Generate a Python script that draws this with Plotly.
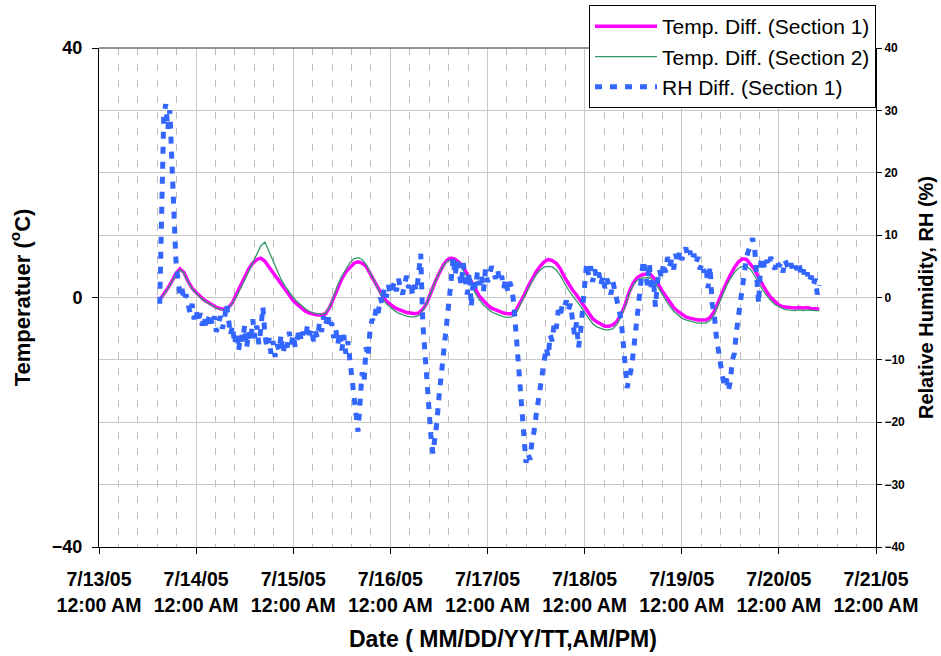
import pandas as pd
import plotly.graph_objects as go

# Temperature readings are hourly, RH readings half-hourly, both from 7/13/05 3:00 PM
start_time = "2005-07-13 15:00"

temp_section1 = [
    -0.4, 0.5, 1.5, 2.6, 3.8, 4.6, 4.0, 2.6, 1.5, 0.8, 0.1, -0.4, -0.8, -1.2, -1.6, -1.8,
    -1.9, -1.6, -0.8, 0.6, 2.0, 3.3, 4.6, 5.5, 6.1, 6.3, 5.8, 4.9, 4.0, 3.0, 2.0, 1.1,
    0.3, -0.5, -1.1, -1.7, -2.2, -2.5, -2.7, -2.8, -2.8, -2.6, -1.6, 0.0, 1.7, 3.0, 4.1, 4.9,
    5.5, 5.7, 5.5, 5.0, 3.9, 2.7, 1.5, 0.3, -0.6, -1.1, -1.6, -1.9, -2.2, -2.4, -2.5, -2.6,
    -2.5, -1.9, -0.9, 0.9, 2.4, 3.8, 5.1, 6.0, 6.3, 6.1, 5.6, 4.9, 3.8, 2.7, 1.4, 0.2,
    -0.6, -1.2, -1.7, -2.0, -2.3, -2.5, -2.6, -2.6, -2.1, -1.0, 0.3, 1.7, 3.0, 4.1, 5.0, 5.7,
    6.1, 5.9, 5.5, 4.6, 3.3, 2.2, 1.2, 0.4, -0.6, -1.6, -2.6, -3.4, -3.9, -4.3, -4.6, -4.6,
    -4.4, -3.8, -2.7, -1.2, 0.9, 2.3, 3.2, 3.6, 3.8, 3.9, 3.2, 2.4, 1.2, 0.2, -0.8, -1.6,
    -2.2, -2.7, -3.1, -3.3, -3.5, -3.6, -3.6, -3.6, -3.2, -2.3, -0.8, 0.9, 2.3, 3.6, 4.8, 5.7,
    6.2, 6.1, 5.4, 4.5, 3.2, 2.0, 0.9, 0.0, -0.7, -1.2, -1.5, -1.6, -1.7, -1.7, -1.6, -1.7,
    -1.6, -1.8, -1.8, -1.9,
]

temp_section2 = [
    -0.5, 0.4, 1.4, 2.5, 3.7, 4.5, 3.9, 2.5, 1.4, 0.7, 0.0, -0.5, -0.9, -1.3, -1.7, -1.9,
    -2.0, -1.7, -0.9, 0.2, 1.4, 2.8, 4.2, 5.6, 7.0, 8.3, 8.9, 7.4, 5.6, 4.2, 2.9, 1.8,
    0.8, 0.0, -0.7, -1.3, -1.8, -2.2, -2.5, -2.6, -2.7, -2.5, -1.5, 0.2, 2.0, 3.4, 4.6, 5.6,
    6.2, 6.4, 6.1, 5.3, 4.0, 2.7, 1.2, 0.0, -1.0, -1.6, -2.1, -2.5, -2.8, -3.0, -3.1, -3.1,
    -2.9, -2.1, -0.9, 0.9, 2.4, 3.8, 5.0, 5.8, 6.0, 5.9, 5.3, 4.3, 3.2, 2.0, 0.7, -0.4,
    -1.2, -1.8, -2.3, -2.6, -2.9, -3.1, -3.2, -3.1, -2.6, -1.4, 0.0, 1.3, 2.6, 3.6, 4.4, 4.9,
    5.0, 4.9, 4.4, 3.5, 2.3, 1.2, 0.3, -0.5, -1.4, -2.4, -3.4, -4.2, -4.7, -5.0, -5.2, -5.2,
    -5.0, -4.3, -3.1, -1.5, 0.6, 2.0, 2.8, 3.1, 3.2, 3.2, 2.6, 1.8, 0.7, -0.4, -1.4, -2.2,
    -2.8, -3.3, -3.6, -3.8, -4.0, -4.1, -4.1, -4.1, -3.7, -2.8, -1.3, 0.4, 1.8, 3.0, 4.0, 4.7,
    5.0, 5.0, 4.5, 3.5, 2.3, 1.2, 0.3, -0.5, -1.1, -1.5, -1.8, -2.0, -2.1, -2.1, -2.0, -2.1,
    -2.0, -2.1, -2.1, -2.1,
]

rh_section1 = [
    # 7/13 afternoon: sensor spike
    -1.0, 12.0, 29.0, 31.0, 27.0, 30.0, 20.0, 11.0, 6.0, 3.0, 0.5, 1.5, -0.5, 0.5, -1.5,
    -2.5, -1.0, -3.5, -2.0, -4.0, -2.5, -4.5, -3.0, -5.0, -3.5, -2.5, -4.5, -3.0, -5.5, -4.0,
    -3.0, -5.0, -3.5, -1.0, -4.5,
    -6.0, -4.5, -7.5, -5.5, -8.5, -6.0, -7.0, -4.5, -8.0, -5.5, -7.0, -3.5, -6.5, -4.5, -7.5,
    -5.0, -1.5, -6.0,
    -8.0, -6.5, -9.0, -7.0, -9.5, -7.5, -8.5, -6.0, -9.0, -7.0, -8.0, -5.5, -7.5, -6.0, -8.0,
    -6.5, -5.0, -7.0, -5.5, -6.5, -4.5, -6.0, -5.0, -7.0, -5.5, -6.5, -4.0, -5.5,
    -3.0, -4.5, -2.5, -5.0, -4.0, -6.5, -5.0, -7.5, -5.5, -8.5, -6.0, -9.0, -7.0, -10.0, -12.5,
    # 7/15 dip
    -15.0, -18.0, -21.5, -17.0, -12.0, -13.5, -8.0, -9.5, -5.0, -3.5, -4.0, -1.5, -2.5, 0.0, -1.0,
    1.5, 0.0, 2.0, 0.5, 1.5, 2.5, 1.0, 3.0, 1.5, 0.5, 2.0, 3.5, 1.5, 2.5, 0.5, 2.0, 1.0,
    # 7/16 dip
    4.0, 7.0, -4.0, -9.0, -13.0, -18.0, -22.0, -25.0, -23.0, -20.0, -16.0, -12.5, -9.0, -6.0,
    -3.0, -0.5, 2.5,
    6.5, 3.5, 6.0, 4.0, 2.0, 5.5, 3.0, 0.5, 4.0, -1.5, 3.0, 1.5,
    4.0, 2.0, 3.5, 1.0, 4.5, 2.5, 3.5, 5.0, 4.0, 3.0, 4.5, 2.5, 3.5, 1.5, 3.0, 1.0, 2.5, 1.5, -1.0,
    # 7/17 dip
    -5.0, -10.0, -14.0, -18.0, -22.0, -26.5, -25.0, -26.0, -23.0, -21.5, -19.0, -17.0, -15.0,
    -12.5, -11.0, -8.0, -9.5, -6.0, -7.0, -4.0, -5.0, -2.0, -3.0, -1.0,
    -1.5, -0.5, -2.0, -1.0, -3.5, -6.0, -4.0, -8.0, -5.5, -2.0,
    1.0, 5.5, 3.5, 5.0, 2.5, 4.5, 3.0, 4.0, 2.0, 3.5, 1.5, 3.0, 2.0, 0.5, 2.5, 1.0, 0.0, -1.5,
    # 7/18 dip
    -3.5, -7.0, -11.0, -14.5, -13.0, -11.5, -9.0, -6.0, -3.0, 0.5, 3.5, 6.0, 4.0,
    2.0, 5.5, 1.0, 3.0, -1.5, 2.5, 4.5, 3.0,
    5.5, 4.0, 6.5, 5.0, 6.0, 4.5, 7.0, 5.5, 7.5, 6.0, 7.0, 8.0, 6.5, 7.5, 6.0, 7.0, 5.5, 6.5,
    4.5, 5.5, 4.0, 5.0,
    # 7/19 dip
    1.5, 5.0, -1.0, -2.5, -6.0, -8.5, -11.0, -12.5, -14.0, -13.0, -15.0, -13.5, -10.0,
    -9.0, -5.5, -3.0, 0.0, 2.0, 4.5, 6.5, 7.5, 8.5, 9.5, 8.0,
    3.0, -1.0, 5.5, 6.5, 4.5, 6.0, 5.0, 6.5, 5.5, 4.5, 6.0, 5.0, 5.5, 4.0, 6.0, 5.0, 4.5, 5.5,
    4.0, 5.0, 4.5, 5.5, 3.5, 4.5, 3.0, 4.0, 2.5, 3.5, 2.0, 3.0, 0.5, 2.0,
]

temp_times = pd.date_range(start_time, periods=len(temp_section1), freq="h")
rh_times = pd.date_range(start_time, periods=len(rh_section1), freq="30min")

# Axis ranges and tick values
x_range = ["2005-07-13", "2005-07-21"]
temp_ticks = [-40, 0, 40]
rh_ticks = [-40, -30, -20, -10, 0, 10, 20, 30, 40]

FONT = "Arial, Liberation Sans, sans-serif"
DAY_MS = 86400000

fig = go.Figure()
fig.add_trace(go.Scatter(
    x=temp_times, y=temp_section1, mode="lines", name="Temp. Diff. (Section 1)",
    line=dict(color="#FF00FF", width=3.5),
))
fig.add_trace(go.Scatter(
    x=temp_times, y=temp_section2, mode="lines", name="Temp. Diff. (Section 2)",
    line=dict(color="#339966", width=1.3),
))
fig.add_trace(go.Scatter(
    x=rh_times, y=rh_section1, mode="lines", name="RH Diff. (Section 1)", yaxis="y2",
    line=dict(color="#3366FF", width=5, dash="7px,8px"),
))

fig.update_layout(
    width=941, height=656,
    margin=dict(l=99, r=65, t=48, b=109, autoexpand=False),
    paper_bgcolor="white", plot_bgcolor="white",
    font=dict(family=FONT, color="black"),
    showlegend=True,
    legend=dict(
        x=1.0, xanchor="right", y=1.086, yanchor="top",
        bgcolor="white", bordercolor="black", borderwidth=1,
        font=dict(family=FONT, size=21, color="black"),
        traceorder="normal", itemwidth=62,
    ),
    xaxis=dict(
        type="date", range=x_range,
        tick0=x_range[0], dtick=DAY_MS,
        tickformat="%-m/%d/%y<br>%I:%M %p",
        tickfont=dict(family=FONT, size=19.5, weight="bold"),
        ticks="outside", ticklen=6, tickcolor="black", ticklabelstandoff=9,
        showline=True, linecolor="black", linewidth=1,
        showgrid=True, gridcolor="#C8C8C8", gridwidth=1,
        minor=dict(dtick=DAY_MS / 5, tick0=x_range[0], showgrid=True,
                   gridcolor="#BDBDBD", griddash="7px,9px", gridwidth=1, ticks=""),
        zeroline=False,
    ),
    yaxis=dict(
        range=[-40, 40], tickmode="array", tickvals=temp_ticks,
        tickfont=dict(family=FONT, size=18, weight="bold"),
        ticks="outside", ticklen=6, tickcolor="black", ticklabelstandoff=6,
        showline=True, linecolor="black", linewidth=1,
        showgrid=False, zeroline=False,
        title=dict(text="Temperatuer (<sup>o</sup>C)", standoff=15,
                   font=dict(family=FONT, size=22, weight="bold")),
    ),
    yaxis2=dict(
        range=[-40, 40], overlaying="y", side="right",
        tickmode="array", tickvals=rh_ticks,
        tickfont=dict(family=FONT, size=12, weight="bold"),
        ticks="outside", ticklen=5, tickcolor="black",
        showline=True, linecolor="black", linewidth=1,
        showgrid=True, gridcolor="#C8C8C8", gridwidth=1, zeroline=False,
        title=dict(text="Relative Humidity, RH (%)", standoff=14,
                   font=dict(family=FONT, size=20, weight="bold")),
    ),
    shapes=[dict(type="line", xref="paper", yref="paper", x0=0, x1=1, y0=1, y1=1,
                 line=dict(color="#707070", width=1.5))],
    annotations=[dict(
        text="Date ( MM/DD/YY/TT,AM/PM)", xref="paper", yref="paper",
        x=0.52, y=-0.184, xanchor="center", yanchor="middle", showarrow=False,
        font=dict(family=FONT, size=23, weight="bold"),
    )],
)

fig.write_html("out.html")
